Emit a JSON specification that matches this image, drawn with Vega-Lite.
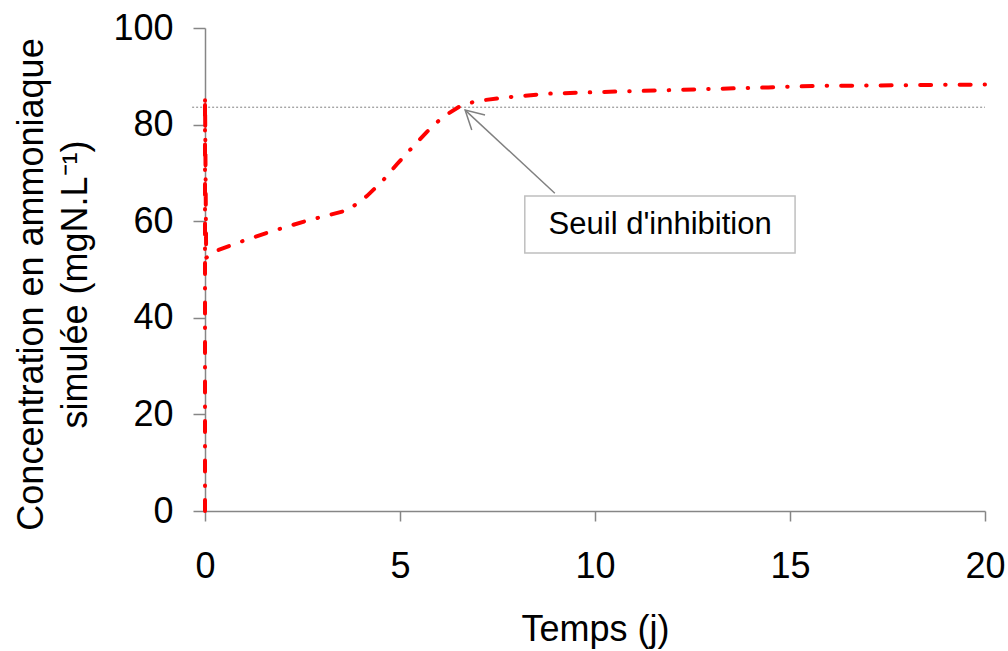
{
  "$schema": "https://vega.github.io/schema/vega-lite/v6.json",
  "width": 780,
  "height": 483,
  "autosize": "none",
  "padding": {"left": 205, "top": 28, "right": 23, "bottom": 140},
  "background": "white",
  "config": {
    "view": {"stroke": null},
    "font": "Liberation Sans",
    "axis": {
      "grid": false,
      "domainColor": "#868686",
      "domainWidth": 1.5,
      "tickColor": "#868686",
      "tickWidth": 1.5,
      "labelFont": "Liberation Sans",
      "labelFontSize": 36,
      "labelColor": "black",
      "labelFlush": false,
      "labelOverlap": false,
      "titleFont": "Liberation Sans",
      "titleFontSize": 36,
      "titleFontWeight": "normal",
      "titleColor": "black"
    }
  },
  "datasets": {
    "sim": [
      {"t": 0, "c": 0},
      {"t": 0, "c": 86},
      {"t": 0.03, "c": 52.4},
      {"t": 0.3, "c": 53.9},
      {"t": 0.97, "c": 55.9},
      {"t": 1.67, "c": 57.8},
      {"t": 2.61, "c": 60.1},
      {"t": 3.67, "c": 62.3},
      {"t": 4.15, "c": 65.2},
      {"t": 4.56, "c": 68.4},
      {"t": 4.92, "c": 71.8},
      {"t": 5.33, "c": 75.4},
      {"t": 5.69, "c": 78.5},
      {"t": 6.1, "c": 81.6},
      {"t": 6.58, "c": 84.0},
      {"t": 6.99, "c": 84.9},
      {"t": 7.69, "c": 85.6},
      {"t": 8.79, "c": 86.4},
      {"t": 9.95, "c": 86.7},
      {"t": 12.18, "c": 87.2},
      {"t": 14.44, "c": 87.7},
      {"t": 15.59, "c": 88.0},
      {"t": 20, "c": 88.3}
    ],
    "arrow": [
      {"seg": "a", "o": 1, "t": 8.97, "c": 65.8},
      {"seg": "a", "o": 2, "t": 6.67, "c": 83.0},
      {"seg": "b", "o": 1, "t": 7.18, "c": 82.0},
      {"seg": "b", "o": 2, "t": 6.67, "c": 83.0},
      {"seg": "b", "o": 3, "t": 6.84, "c": 78.9}
    ],
    "box": [
      {"t1": 8.2, "t2": 15.13, "c1": 53.4, "c2": 65.2, "tm": 11.67, "cm": 59.3, "label": "Seuil d'inhibition"}
    ],
    "seuil": [
      {"t1": -0.33, "t2": 20, "c": 83.6}
    ]
  },
  "layer": [
    {
      "data": {"name": "seuil"},
      "mark": {"type": "rule", "color": "#808080", "strokeWidth": 1, "strokeDash": [2, 2]},
      "encoding": {
        "x": {"field": "t1", "type": "quantitative", "scale": {"domain": [0, 20]}},
        "x2": {"field": "t2"},
        "y": {"field": "c", "type": "quantitative", "scale": {"domain": [0, 100]}}
      }
    },
    {
      "data": {"name": "sim"},
      "mark": {"type": "line", "color": "#ff0000", "strokeWidth": 4, "strokeCap": "round", "strokeDash": [11, 14, 0.5, 14], "interpolate": "linear"},
      "encoding": {
        "x": {
          "field": "t", "type": "quantitative",
          "scale": {"domain": [0, 20], "nice": false},
          "axis": {"values": [0, 5, 10, 15, 20], "tickSize": 10, "labelPadding": 28, "title": "Temps (j)", "titlePadding": 28}
        },
        "y": {
          "field": "c", "type": "quantitative",
          "scale": {"domain": [0, 100], "nice": false},
          "axis": {"values": [0, 20, 40, 60, 80, 100], "tickSize": 12, "labelPadding": 20, "title": ["Concentration en ammoniaque", "simulée (mgN.L⁻¹)"], "titleLineHeight": 44, "titlePadding": 18, "titleY": 256}
        },
        "order": {"field": "t"}
      }
    },
    {
      "data": {"name": "arrow"},
      "mark": {"type": "line", "color": "#808080", "strokeWidth": 1.5},
      "encoding": {
        "x": {"field": "t", "type": "quantitative"},
        "y": {"field": "c", "type": "quantitative"},
        "detail": {"field": "seg"},
        "order": {"field": "o"}
      }
    },
    {
      "data": {"name": "box"},
      "mark": {"type": "rect", "fill": "white", "stroke": "#bfbfbf", "strokeWidth": 1.5},
      "encoding": {
        "x": {"field": "t1", "type": "quantitative"},
        "x2": {"field": "t2"},
        "y": {"field": "c1", "type": "quantitative"},
        "y2": {"field": "c2"}
      }
    },
    {
      "data": {"name": "box"},
      "mark": {"type": "text", "fontSize": 31, "font": "Liberation Sans", "color": "black", "align": "center", "baseline": "middle"},
      "encoding": {
        "x": {"field": "tm", "type": "quantitative"},
        "y": {"field": "cm", "type": "quantitative"},
        "text": {"field": "label"}
      }
    }
  ]
}
